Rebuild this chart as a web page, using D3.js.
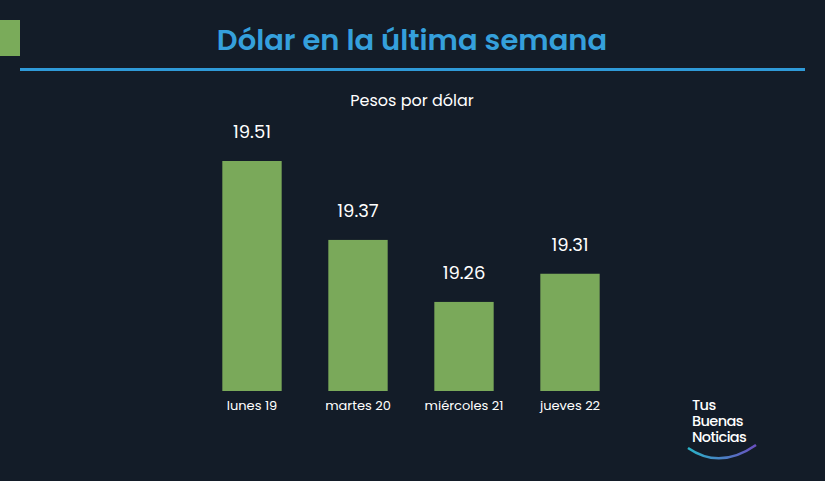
<!DOCTYPE html>
<html>
<head>
<meta charset="utf-8">
<script src="https://d3js.org/d3.v7.min.js"></script>
<style>
  body { margin: 0; background: #131c28; }
  svg { display: block; font-family: Poppins, "Open Sans", sans-serif; }
</style>
</head>
<body>
<svg id="chart" width="825" height="481"></svg>
<script>
const days = ["lunes 19", "martes 20", "miércoles 21", "jueves 22"];
const rates = [19.51, 19.37, 19.26, 19.31];
const logoLines = ["Tus", "Buenas", "Noticias"];

const svg = d3.select("#chart");
svg.append("rect").attr("width", 825).attr("height", 481).attr("fill", "#131c28");

// header
svg.append("rect").attr("x", 0).attr("y", 20).attr("width", 20).attr("height", 36).attr("fill", "#7aab5a");
svg.append("text").attr("x", 412).attr("y", 50).attr("text-anchor", "middle")
  .attr("fill", "#35a0dc").attr("font-size", 29).attr("font-weight", 600).text("Dólar en la última semana");
svg.append("rect").attr("x", 20).attr("y", 68).attr("width", 785).attr("height", 3).attr("fill", "#2f9ad8");
svg.append("text").attr("x", 412).attr("y", 106).attr("text-anchor", "middle")
  .attr("fill", "#ffffff").attr("font-size", 16).text("Pesos por dólar");

// bars
const x = d3.scaleBand().domain(days).range([199, 623]).paddingInner(0.44).paddingOuter(0.22);
const y = d3.scaleLinear().domain([19.102, 19.51]).range([391, 161]);

svg.selectAll(".bar").data(rates).join("rect")
  .attr("x", (d, i) => x(days[i]))
  .attr("y", d => y(d))
  .attr("width", x.bandwidth())
  .attr("height", d => 391 - y(d))
  .attr("fill", "#7aa95a");

svg.selectAll(".val").data(rates).join("text")
  .attr("x", (d, i) => x(days[i]) + x.bandwidth() / 2)
  .attr("y", d => y(d) - 23)
  .attr("text-anchor", "middle").attr("fill", "#ffffff").attr("font-size", 18)
  .text(d => d.toFixed(2));

const xAxis = svg.append("g").attr("transform", "translate(0,391)")
  .call(d3.axisBottom(x).tickSize(0).tickPadding(10));
xAxis.select(".domain").remove();
xAxis.selectAll("text").attr("fill", "#ffffff").attr("font-size", 13).attr("font-family", "Poppins, 'Open Sans', sans-serif");

// logo
const logo = svg.append("g");
logo.selectAll("text").data(logoLines).join("text")
  .attr("x", 692).attr("y", (d, i) => 410 + i * 16)
  .attr("fill", "#ffffff").attr("font-size", 14.5).attr("font-weight", 500).attr("letter-spacing", -0.6)
  .text(d => d);
const grad = svg.append("defs").append("linearGradient").attr("id", "lg");
grad.append("stop").attr("offset", "0%").attr("stop-color", "#2ab3c8");
grad.append("stop").attr("offset", "100%").attr("stop-color", "#6a4fc0");
logo.append("path").attr("d", "M688,448 Q720,470 756,445")
  .attr("fill", "none").attr("stroke", "url(#lg)").attr("stroke-width", 2.5);
</script>
</body>
</html>
